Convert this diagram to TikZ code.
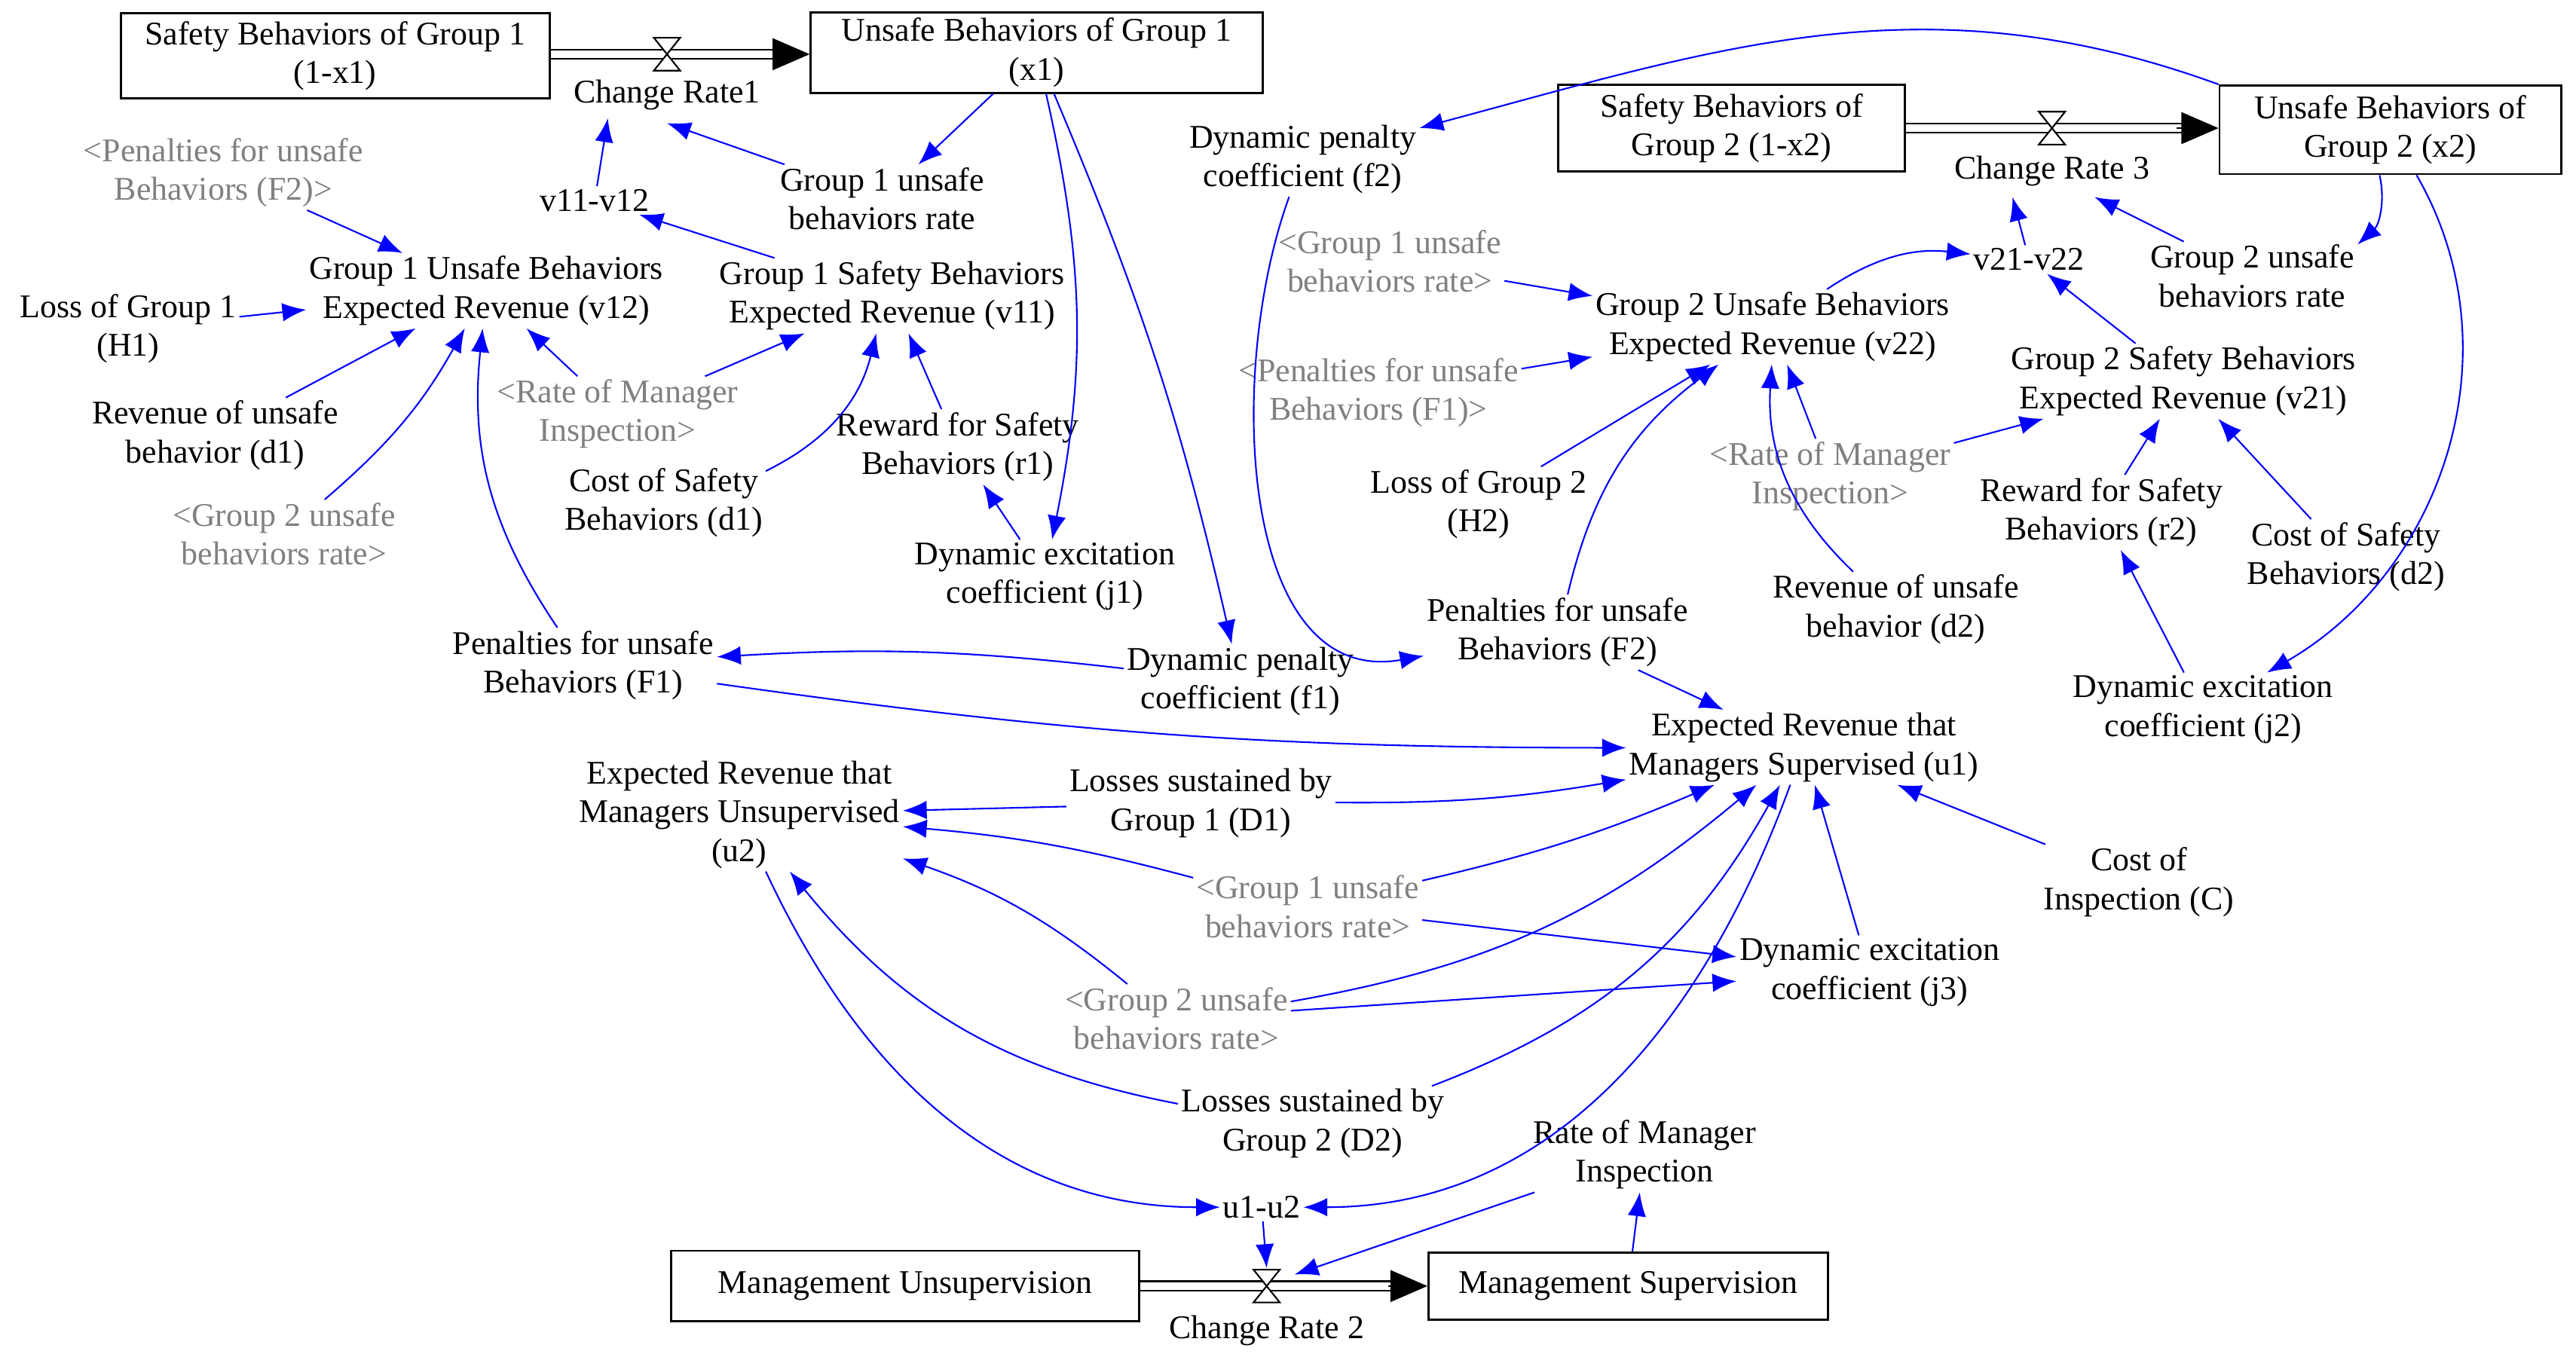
\documentclass[tikz,border=0pt]{standalone}
\usepackage{fontspec}
\setmainfont{Liberation Serif}
\usetikzlibrary{arrows.meta,calc}
\begin{document}
\begin{tikzpicture}[x=0.0218cm,y=-0.0218cm,
 every node/.style={font=\fontsize{12.5}{14.6}\selectfont,align=center,inner sep=1pt},
 s/.style={text=gray},
 box/.style={draw,thick,inner sep=0pt},
 ar/.style={draw=blue,line width=0.6pt,-{Latex[length=9pt,width=7pt]}},
 pipe/.style={double,double distance=3pt,line width=0.6pt},
 tip/.style={-{Triangle[length=14pt,width=12pt]},line width=0.6pt}]
\useasboundingbox (0,0) rectangle (1568,828);
% stocks
\node[box,minimum width=261*0.0218cm,minimum height=52*0.0218cm] (SB1) at (204,34) {Safety Behaviors of Group 1\\(1-x1)};
\node[box,minimum width=275*0.0218cm,minimum height=49*0.0218cm] (UB1) at (631,32) {Unsafe Behaviors of Group 1\\(x1)};
\node[box,minimum width=211*0.0218cm,minimum height=53*0.0218cm] (SB2) at (1054,78) {Safety Behaviors of\\Group 2 (1-x2)};
\node[box,minimum width=208*0.0218cm,minimum height=54*0.0218cm] (UB2) at (1455,79) {Unsafe Behaviors of\\Group 2 (x2)};
\node[box,minimum width=285*0.0218cm,minimum height=43*0.0218cm] (MU) at (551,783) {Management Unsupervision};
\node[box,minimum width=243*0.0218cm,minimum height=41*0.0218cm] (MS) at (991,783) {Management Supervision};
% pipes
\draw[pipe] (SB1.east|-0,33) -- (480,33);
\draw[tip] (470,33) -- (UB1.west|-0,33);
\coordinate (val1) at (406,33);
\draw[pipe] (SB2.east|-0,78) -- (1335,78);
\draw[tip] (1325,78) -- (UB2.west|-0,78);
\coordinate (val3) at (1249,78);
\draw[pipe] (MU.east|-0,783) -- (855,783);
\draw[tip] (845,783) -- (MS.west|-0,783);
\coordinate (val2) at (771,783);
\foreach \c in {val1,val3,val2}{
 \draw[fill=white,line width=0.6pt] ($(\c)+(-8,-10)$) -- ($(\c)+(8,-10)$) -- ($(\c)+(-8,10)$) -- ($(\c)+(8,10)$) -- cycle;}
% variables
\node (cr1) at (406,58) {Change Rate1};
\node (g1rate) at (537,121) {Group 1 unsafe\\behaviors rate};
\node[s] (pen2s) at (136,105) {<Penalties for unsafe\\Behaviors (F2)>};
\node (v1112) at (362,122) {v11-v12};
\node (v12) at (296,177) {Group 1 Unsafe Behaviors\\Expected Revenue (v12)};
\node (v11) at (543,180) {Group 1 Safety Behaviors\\Expected Revenue (v11)};
\node (H1) at (78,200) {Loss of Group 1\\(H1)};
\node (d1rev) at (131,265) {Revenue of unsafe\\behavior (d1)};
\node[s] (rmi1) at (376,252) {<Rate of Manager\\Inspection>};
\node[s] (g2rs1) at (173,325) {<Group 2 unsafe\\behaviors rate>};
\node (costd1) at (404,306) {Cost of Safety\\Behaviors (d1)};
\node (r1) at (583,272) {Reward for Safety\\Behaviors (r1)};
\node (j1) at (636,351) {Dynamic excitation\\coefficient (j1)};
\node (F1) at (355,405) {Penalties for unsafe\\Behaviors (F1)};
\node (f1) at (755,415) {Dynamic penalty\\coefficient (f1)};
\node (f2) at (793,97) {Dynamic penalty\\coefficient (f2)};
\node[s] (g1rs2) at (846,159) {<Group 1 unsafe\\behaviors rate>};
\node[s] (pen1s) at (839,239) {<Penalties for unsafe\\Behaviors (F1)>};
\node (v22) at (1079,199) {Group 2 Unsafe Behaviors\\Expected Revenue (v22)};
\node (v2122) at (1235,158) {v21-v22};
\node (cr3) at (1249,104) {Change Rate 3};
\node (g2rate) at (1371,168) {Group 2 unsafe\\behaviors rate};
\node (v21) at (1329,232) {Group 2 Safety Behaviors\\Expected Revenue (v21)};
\node[s] (rmi2) at (1114,290) {<Rate of Manager\\Inspection>};
\node (H2) at (900,307) {Loss of Group 2\\(H2)};
\node (r2) at (1279,312) {Reward for Safety\\Behaviors (r2)};
\node (costd2) at (1428,339) {Cost of Safety\\Behaviors (d2)};
\node (d2rev) at (1154,371) {Revenue of unsafe\\behavior (d2)};
\node (F2) at (948,385) {Penalties for unsafe\\Behaviors (F2)};
\node (j2) at (1341,432) {Dynamic excitation\\coefficient (j2)};
\node (u1) at (1098,455) {Expected Revenue that\\Managers Supervised (u1)};
\node (u2) at (450,496) {Expected Revenue that\\Managers Unsupervised\\(u2)};
\node (D1) at (731,489) {Losses sustained by\\Group 1 (D1)};
\node (C) at (1302,537) {Cost of\\Inspection (C)};
\node[s] (g1rs3) at (796,552) {<Group 1 unsafe\\behaviors rate>};
\node (j3) at (1138,592) {Dynamic excitation\\coefficient (j3)};
\node[s] (g2rs3) at (716,620) {<Group 2 unsafe\\behaviors rate>};
\node (D2) at (799,684) {Losses sustained by\\Group 2 (D2)};
\node (rmiS) at (1001,703) {Rate of Manager\\Inspection};
\node (u1u2) at (768,735) {u1-u2};
\node (cr2) at (771,810) {Change Rate 2};
% links
\draw[ar] (g1rate) -- (val1|-0,75);
\draw[ar] (UB1) -- (g1rate);
\draw[ar] (v1112) -- (370,72);
\draw[ar] (pen2s) -- (v12);
\draw[ar] (v11) -- (v1112);
\draw[ar] (H1) -- (v12);
\draw[ar] (d1rev) -- (v12);
\draw[ar] (g2rs1) to[bend right=10] (v12);
\draw[ar] (rmi1) -- (v12);
\draw[ar] (rmi1) -- (v11);
\draw[ar] (costd1) to[bend right=25] (v11);
\draw[ar] (r1) -- (v11);
\draw[ar] (j1) -- (r1);
\draw[ar] (UB1) to[bend left=12] (j1);
\draw[ar] (UB1) to[bend left=5] (f1);
\draw[ar] (F1) to[bend left=20] (v12);
\draw[ar] (f1) to[bend right=5] (F1);
\draw[ar] (F1) to[bend right=4] (u1);
\draw[ar] (UB2.north west) to[out=160,in=15] (f2);
\draw[ar] (f2) to[out=250,in=190] (F2);
\draw[ar] (g1rs2) -- (v22);
\draw[ar] (pen1s) -- (v22);
\draw[ar] (v22) to[bend left=20] (v2122);
\draw[ar] (v21) -- (v2122);
\draw[ar] (g2rate) -- (1275,120);
\draw[ar] (v2122) -- (1225,120);
\draw[ar] (UB2) to[bend left=30] (g2rate);
\draw[ar] (UB2) to[out=-60,in=30] (j2);
\draw[ar] (H2) -- (v22);
\draw[ar] (F2) to[bend left=20] (v22);
\draw[ar] (d2rev) to[bend left=25] (v22);
\draw[ar] (rmi2) -- (v22);
\draw[ar] (rmi2) -- (v21);
\draw[ar] (r2) -- (v21);
\draw[ar] (costd2) -- (v21);
\draw[ar] (j2) -- (r2);
\draw[ar] (F2) -- (u1);
\draw[ar] (D1) -- (u2);
\draw[ar] (D1) to[bend right=5] (u1);
\draw[ar] (C) -- (u1);
\draw[ar] (j3) -- (u1);
\draw[ar] (g1rs3) to[bend right=5] (u1);
\draw[ar] (g1rs3) to[bend right=5] (u2);
\draw[ar] (g1rs3) -- (j3);
\draw[ar] (g2rs3) to[bend right=10] (u2);
\draw[ar] (g2rs3) to[bend right=15] (u1);
\draw[ar] (g2rs3) -- (j3);
\draw[ar] (D2) to[bend left=20] (u2);
\draw[ar] (D2) to[bend right=20] (u1);
\draw[ar] (u2) to[out=-65,in=180] (u1u2);
\draw[ar] (u1) to[out=-110,in=0] (u1u2);
\draw[ar] (u1u2) -- (val2|-0,772);
\draw[ar] (rmiS) -- (788,776);
\draw[ar] (MS) -- (rmiS);
\end{tikzpicture}
\end{document}
